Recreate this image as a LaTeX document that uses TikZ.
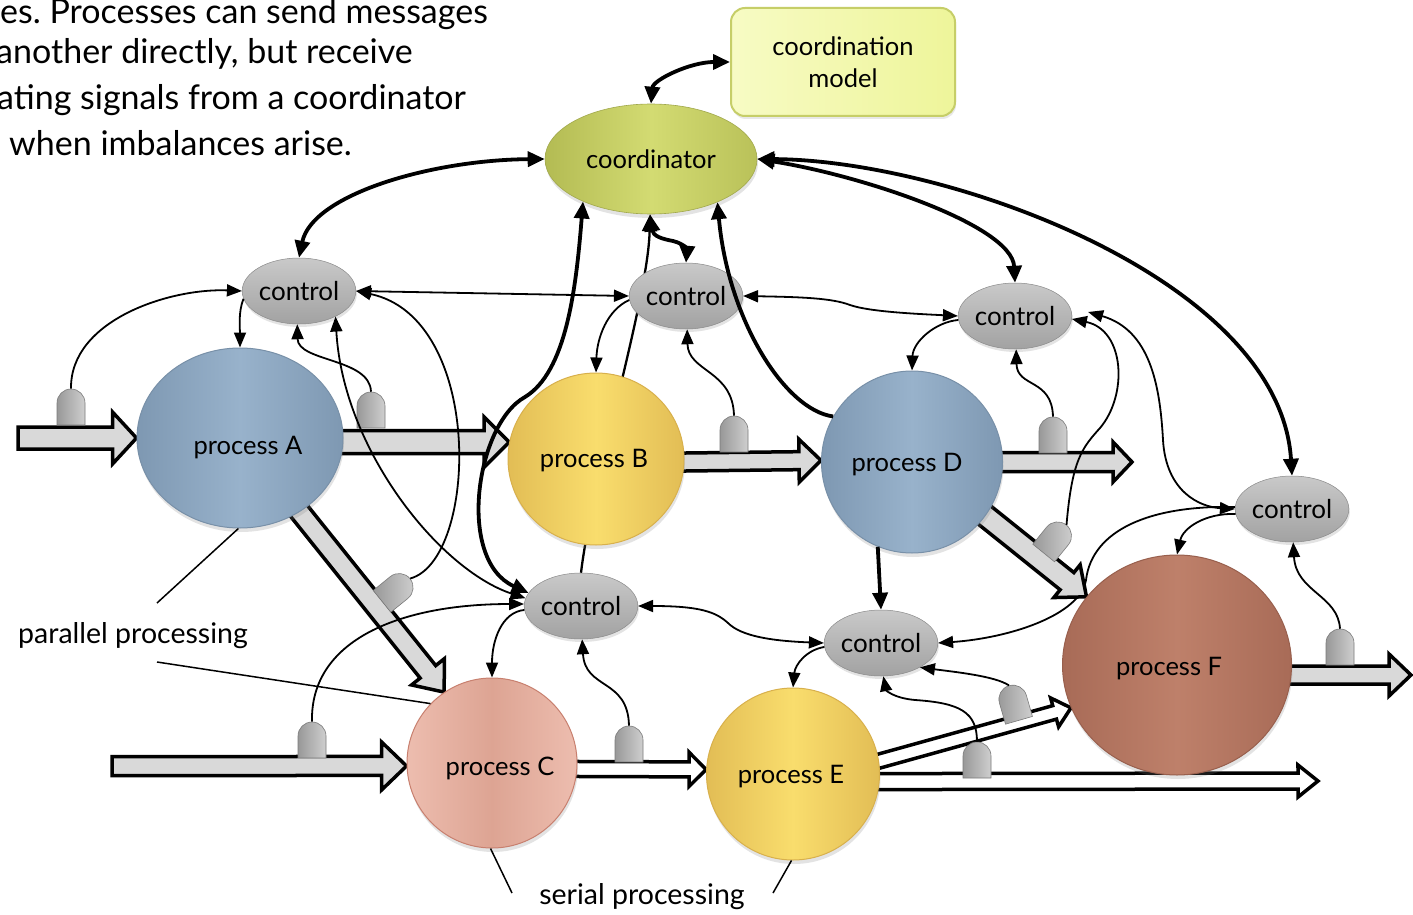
\documentclass[tikz,border=0pt]{standalone}
\usepackage{fontspec}
\setmainfont{Lato}
\frenchspacing
\usetikzlibrary{arrows.meta,calc,shapes.geometric,shapes.misc,shadows}
\pgfdeclarelayer{bg}
\pgfsetlayers{bg,main}

\definecolor{blueE}{HTML}{7E98B2}
\definecolor{blueM}{HTML}{98B2CB}
\definecolor{blueO}{HTML}{7890A8}
\definecolor{yelE}{HTML}{E2BD55}
\definecolor{yelM}{HTML}{F9DD6D}
\definecolor{yelO}{HTML}{D8B04C}
\definecolor{pinkE}{HTML}{DDA493}
\definecolor{pinkM}{HTML}{EDBDAF}
\definecolor{pinkO}{HTML}{C8806F}
\definecolor{brownE}{HTML}{A86B57}
\definecolor{brownM}{HTML}{BE806A}
\definecolor{brownO}{HTML}{985F4D}
\definecolor{ctlT}{HTML}{C9C9C9}
\definecolor{ctlB}{HTML}{A2A2A2}
\definecolor{coE}{HTML}{B3BB53}
\definecolor{coM}{HTML}{D3DB72}
\definecolor{mdL}{HTML}{F7FBC4}
\definecolor{mdR}{HTML}{EEF59A}
\definecolor{mdO}{HTML}{C6CE68}
\definecolor{arrF}{HTML}{D9D9D9}
\definecolor{sensD}{HTML}{989898}
\definecolor{sensL}{HTML}{CFCFCF}

% block arrow: #1 style, #2 start, #3 tip, #4 shaft half width, #5 head half width, #6 head length
\newcommand\blockarrow[6]{%
  \path (#2); \pgfgetlastxy{\baX}{\baY}%
  \path (#3); \pgfgetlastxy{\bbX}{\bbY}%
  \pgfmathsetmacro\baang{atan2((\bbY)-(\baY),(\bbX)-(\baX))}%
  \pgfmathsetmacro\balen{veclen((\bbX)-(\baX),(\bbY)-(\baY))}%
  \pgfmathsetmacro\bahead{\balen-#6}%
  \draw[#1,shift={(\baX,\baY)},rotate=\baang,x=1pt,y=1pt]
    (0,#4) -- (\bahead,#4) -- (\bahead,#5) -- (\balen,0)
    -- (\bahead,-#5) -- (\bahead,-#4) -- (0,-#4) -- cycle;
}

\tikzset{
  proc/.style={ellipse, inner sep=0pt, line width=1pt,
    drop shadow={shadow xshift=1pt, shadow yshift=-4pt, opacity=0.22}},
  ctl/.style={ellipse, inner sep=0pt, minimum width=112pt, minimum height=66pt,
    top color=ctlT, bottom color=ctlB, draw=ctlB!85!black, line width=0.5pt,
    font=\fontsize{26}{30}\selectfont,
    drop shadow={shadow xshift=1pt, shadow yshift=-3pt, opacity=0.22}},
  sensor/.style={shape=rounded rectangle, rounded rectangle west arc=none,
    minimum width=36pt, minimum height=28pt, inner sep=0pt,
    left color=sensD, right color=sensL, draw=sensD!80!black, line width=0.6pt},
  lbl/.style={font=\fontsize{25.5}{29}\selectfont, inner sep=0pt},
  annot/.style={font=\fontsize{28.5}{32}\selectfont, inner sep=0pt},
  toptext/.style={font=\fontsize{34}{40}\selectfont, inner sep=0pt, anchor=base west},
  greyarr/.style={fill=arrF, draw=black, line width=3.5pt, line join=miter},
  whitearr/.style={fill=white, draw=black, line width=3.5pt, line join=miter},
  conn/.style={line width=1.8pt, -{Triangle[length=15pt,width=12pt]}},
  conn2/.style={line width=1.8pt, {Triangle[length=15pt,width=12pt]}-{Triangle[length=15pt,width=12pt]}},
  thk/.style={line width=3.8pt, {Triangle[length=17pt,width=15pt]}-{Triangle[length=17pt,width=15pt]}},
  thk1/.style={line width=3.8pt, -{Triangle[length=17pt,width=15pt]}},
  midline/.style={line width=2.3pt, {Triangle[length=17pt,width=15pt]}-},
  leader/.style={line width=1.5pt},
}

\begin{document}
\begin{tikzpicture}[x=1pt,y=-1pt]
\clip (0,0) rectangle (1413,915);
\begin{pgfonlayer}{bg}
  \fill[white] (0,0) rectangle (1413,915);
\end{pgfonlayer}

% coordination layer
\node[rectangle, rounded corners=14pt, minimum width=224pt, minimum height=108pt,
  left color=mdL, right color=mdR, draw=mdO, line width=2pt, align=center,
  font=\fontsize{25.5}{32}\selectfont,
  drop shadow={shadow xshift=1pt, shadow yshift=-3pt, opacity=0.18}] (model) at (843,62) {coordination\\model};
\node[ellipse, inner sep=0pt, minimum width=212pt, minimum height=110pt,
  left color=coE, right color=coE!80!coM, middle color=coM, draw=coE!90!black, line width=0.6pt,
  font=\fontsize{25.5}{29}\selectfont,
  drop shadow={shadow xshift=1pt, shadow yshift=-4pt, opacity=0.22}] (coord) at (651,159) {coordinator};

% processes
\node[proc, minimum width=206pt, minimum height=180pt, left color=blueE, right color=blueE, middle color=blueM, draw=blueO] (A) at (240,438) {};
\node[proc, minimum width=176pt, minimum height=172pt, left color=yelE, right color=yelE, middle color=yelM, draw=yelO] (B) at (596,459) {};
\node[proc, minimum width=170pt, minimum height=170pt, left color=pinkM, right color=pinkM, middle color=pinkE, draw=pinkO] (C) at (492,763) {};
\node[proc, minimum width=181pt, minimum height=182pt, left color=blueE, right color=blueE, middle color=blueM, draw=blueO] (D) at (912,462) {};
\node[proc, minimum width=173pt, minimum height=172pt, left color=yelE, right color=yelE, middle color=yelM, draw=yelO] (E) at (793,774) {};
\node[proc, minimum width=229pt, minimum height=220pt, left color=brownE, right color=brownE, middle color=brownM, draw=brownO] (F) at (1177,665) {};

\node[lbl] (labA) at (248,448) {process A};
\node[lbl] (labB) at (594,461) {process B};
\node[lbl] (labC) at (500,768) {process C};
\node[lbl] (labD) at (907,465) {process D};
\node[lbl] (labE) at (791,777) {process E};
\node[lbl] (labF) at (1169,669) {process F};

% controls
\node[ctl] (c1) at (299,291) {control};
\node[ctl] (c2) at (686,296) {control};
\node[ctl] (c3) at (1015,316) {control};
\node[ctl] (c4) at (1292,509) {control};
\node[ctl] (c5) at (581,606) {control};
\node[ctl] (c6) at (881,643) {control};

% sensors
\node[sensor, rotate=90] (s1) at (71,407) {};
\node[sensor, rotate=90] (s2) at (371,410) {};
\node[sensor, rotate=39] (s3) at (396,590) {};
\node[sensor, rotate=90] (s4) at (312,740) {};
\node[sensor, rotate=90] (s5) at (629,744) {};
\node[sensor, rotate=90] (s6) at (734,434) {};
\node[sensor, rotate=90] (s7) at (1053,435) {};
\node[sensor, rotate=51] (s8) at (1055,539) {};
\node[sensor, rotate=106] (s9) at (1014,703) {};
\node[sensor, rotate=90] (s10) at (977,760) {};
\node[sensor, rotate=90] (s11) at (1340,647) {};

% free ends of the flows
\coordinate (inA) at (18,438);
\coordinate (inC) at (112,766);
\coordinate (outD) at (1132,462);
\coordinate (outE) at (1318,781);
\coordinate (outF) at (1411,675);

\begin{pgfonlayer}{bg}
  % links that pass behind nodes
  \draw[conn] (c4.178) .. controls (1150,505) and (1092,530) .. (1086,580)
    .. controls (1080,615) and (1010,638) .. (c6.east);
  \draw[midline] (coord.-91) .. controls (648,300) and (592,480) .. (c5.north);
  % material flows
  \blockarrow{greyarr}{inA}{A.west}{11}{26}{24}
  \blockarrow{greyarr}{$(A.east)+(-10,4)$}{B.169}{11.5}{25}{25}
  \blockarrow{greyarr}{$(A.-51)!10pt!(A.center)$}{C.124}{10}{21}{26}
  \blockarrow{greyarr}{inC}{C.182}{9.5}{24}{25}
  \blockarrow{whitearr}{$(C.-4)+(-6,0)$}{E.177}{7.5}{17}{17}
  \blockarrow{whitearr}{$(E.-5)+(-6,0)$}{outE}{8}{16}{20}
  \blockarrow{whitearr}{$(E.8)!6pt!(E.center)$}{F.202}{7}{15}{17}
  \blockarrow{greyarr}{$(B.-2)+(-6,0)$}{D.179}{9}{21.5}{22}
  \blockarrow{greyarr}{$(D.east)+(-6,0)$}{outD}{9.5}{20}{19}
  \blockarrow{greyarr}{$(D.-36)!8pt!(D.center)$}{F.143}{11}{21}{25}
  \blockarrow{greyarr}{$(F.-5)+(-6,0)$}{outF}{9}{21}{22}
\end{pgfonlayer}

% coordinator links
\draw[thk] (coord.north) .. controls (653,80) and (690,62) .. (model.west);
\draw[thk] (coord.west) .. controls (430,160) and (312,195) .. (c1.north);
\draw[thk] (coord.-148) .. controls (576,290) and (566,372) .. (525,397)
  .. controls (476,424) and (456,560) .. (c5.166);
\draw[thk] (coord.-91) .. controls (653,236) and (662,239) .. (673,241)
  .. controls (685,244) and (687,250) .. (c2.north);
\draw[thk1] (D.150) .. controls (785,410) and (728,320) .. (coord.-33);
\draw[thk] (coord.east) .. controls (860,175) and (1012,225) .. (c3.north);
\draw[thk] (coord.east) .. controls (950,160) and (1280,280) .. (c4.north);
\draw[thk1] (D.-112) -- (c6.north);

% control links
\draw[conn] (s1.east) .. controls (70,320) and (170,288) .. (c1.west);
\draw[conn] (c1.188) .. controls (238,312) and (240,330) .. (A.north);
\draw[conn] (s2.east) .. controls (370,358) and (298,362) .. (c1.-93);
\draw[conn2] (c1.-35) .. controls (343,450) and (440,570) .. (c5.172);
\draw[conn2] (c1.east) -- (c2.west);
\draw[conn] (s3.east) .. controls (478,560) and (485,318) .. (c1.east);
\draw[conn] (s4.east) .. controls (310,640) and (400,604) .. (c5.178);
\draw[conn] (c5.184) .. controls (502,612) and (492,640) .. (C.north);
\draw[conn] (s5.east) .. controls (628,678) and (585,690) .. (c5.-88);
\draw[conn2] (c5.east) .. controls (700,606) and (716,612) .. (728,623)
  .. controls (742,637) and (775,641) .. (c6.west);
\draw[conn] (c2.184) .. controls (607,310) and (597,338) .. (B.north);
\draw[conn] (s6.east) .. controls (733,370) and (688,372) .. (c2.-88);
\draw[conn2] (c2.east) .. controls (800,297) and (832,298) .. (850,305)
  .. controls (870,312) and (920,314) .. (c3.west);
\draw[conn] (c3.184) .. controls (935,322) and (913,342) .. (D.north);
\draw[conn] (s7.east) .. controls (1052,378) and (1017,388) .. (c3.-88);
\draw[conn] (s8.east) .. controls (1072,460) and (1082,448) .. (1100,428)
  .. controls (1128,395) and (1125,330) .. (c3.-3);
\draw[conn2] ($(c3.east)+(16,-4)$) .. controls (1150,330) and (1160,385) .. (1163,440)
  .. controls (1166,492) and (1200,507) .. (c4.west);
\draw[conn] (c4.185) .. controls (1205,513) and (1183,528) .. (F.north);
\draw[conn] (s11.east) .. controls (1338,595) and (1296,592) .. (c4.-88);
\draw[conn] (c6.184) .. controls (806,650) and (795,665) .. (E.north);
\draw[conn] (s10.east) .. controls (977,712) and (960,703) .. (915,700)
  .. controls (893,698) and (886,690) .. (c6.-86);
\draw[conn] (s9.east) .. controls (995,676) and (955,672) .. (c6.-32);

% annotations
\node[annot] (pp) at (133,636) {parallel processing};
\coordinate (ppA) at (157,603);
\coordinate (ppB) at (157,662);
\draw[leader] (ppA) -- (A.-91);
\draw[leader] (ppB) -- (C.136);
\node[annot] (sp) at (642,897) {serial processing};
\coordinate (spA) at (512,893);
\coordinate (spB) at (773,893);
\draw[leader] (spA) -- (C.-91);
\draw[leader] (spB) -- (E.-91);

% caption text
\node[toptext] (t1) at (0,24) {es. Processes can send messages};
\node[toptext] (t2) at (-4,64) {another directly, but receive};
\node[toptext] (t3) at (-3,110) {ating signals from a coordinator};
\node[toptext] (t4) at (9,155) {when imbalances arise.};
\end{tikzpicture}
\end{document}
